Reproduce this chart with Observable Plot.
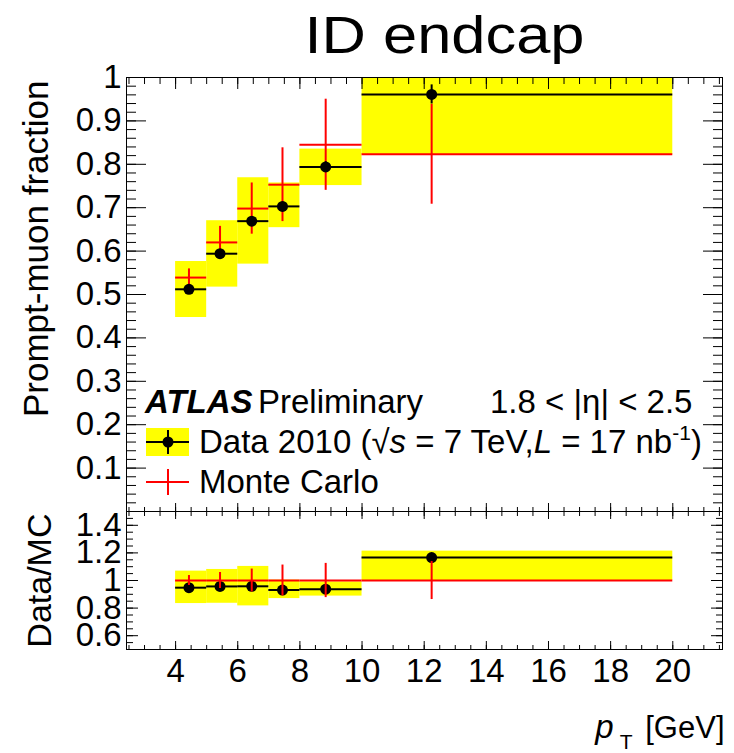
<!DOCTYPE html>
<html><head><meta charset="utf-8">
<script src="https://cdn.jsdelivr.net/npm/d3@7"></script>
<script src="https://cdn.jsdelivr.net/npm/@observablehq/plot@0.6"></script>
<style>
html,body{margin:0;padding:0;background:#fff;}
#chart{width:734px;height:753px;overflow:hidden;position:relative;}
#chart svg{display:block;}
#chart svg.bottom-panel{position:relative;margin-top:-20px;}
</style></head><body><div id="chart"></div>
<script>
// ---- data ----
const binLo = [4, 5, 6, 7, 8, 10];
const binHi = [5, 6, 7, 8, 10, 20];
const ptMean = [4.43, 5.43, 6.45, 7.44, 8.83, 12.24];
const dataFrac = [0.512, 0.594, 0.669, 0.703, 0.794, 0.961];
const dataStat = [0.008, 0.009, 0.010, 0.010, 0.012, 0.022];
const dataSysLo = [0.447, 0.517, 0.570, 0.654, 0.751, 0.822];
const dataSysHi = [0.576, 0.670, 0.769, 0.757, 0.835, 1.100];
const mcFrac = [0.539, 0.620, 0.698, 0.753, 0.845, 0.823];
const mcErr = [0.020, 0.037, 0.059, 0.085, 0.105, 0.115];
const ratio = [0.948, 0.957, 0.958, 0.931, 0.937, 1.166];
const ratioSysLo = [0.833, 0.835, 0.816, 0.869, 0.887, 1.000];
const ratioSysHi = [1.068, 1.080, 1.102, 1.003, 0.990, 1.213];
const mcRatio = [1, 1, 1, 1, 1, 1];
const mcRatioErr = [0.036, 0.058, 0.083, 0.112, 0.124, 0.138];

// ---- axes / tick labels ----
const xDomain = [2.42, 21.6];
const xMajor = [4, 6, 8, 10, 12, 14, 16, 18, 20];
const xMinor = d3.range(2.5, 21.51, 0.5);
const yTopDomain = [0, 1];
const yTopLabels = [0.1, 0.2, 0.3, 0.4, 0.5, 0.6, 0.7, 0.8, 0.9, 1];
const yTopMajor = d3.range(0, 1.001, 0.1);
const yTopMinor = d3.range(0, 1.001, 0.02);
const yBotDomain = [0.5, 1.5];
const yBotLabels = [0.6, 0.8, 1, 1.2, 1.4];
const yBotMajor = [0.6, 0.8, 1.0, 1.2, 1.4];
const yBotMinor = d3.range(0.5, 1.501, 0.05);

const titleText = "ID endcap";
const yTopTitle = "Prompt-muon fraction";
const yBotTitle = "Data/MC";

const FONT = "'Liberation Sans', Arial, Helvetica, sans-serif";
const YELLOW = "#ffff00", RED = "#ff0000";

const bins = binLo.map((lo, i) => ({
  lo, hi: binHi[i], x: ptMean[i],
  data: dataFrac[i], stat: dataStat[i], sysLo: dataSysLo[i], sysHi: dataSysHi[i],
  mc: mcFrac[i], mcErr: mcErr[i],
  ratio: ratio[i], rLo: ratioSysLo[i], rHi: ratioSysHi[i],
  mcR: mcRatio[i], mcRErr: mcRatioErr[i]
}));

function frameTicks(scale, values, anchor, size) {
  const opt = {anchor, tickSize: size, fill: "none", label: null, strokeWidth: 1};
  opt["inset" + anchor[0].toUpperCase() + anchor.slice(1)] = size;
  return scale === "x" ? Plot.axisX(values, opt) : Plot.axisY(values, opt);
}

// legend drawn through a custom render function (inside the top frame)
function legendMark(index, scales, values, dims) {
  const L = dims.marginLeft, B = dims.height - dims.marginBottom;
  const FS = 33;
  const g = d3.create("svg:g").attr("font-family", FONT).attr("fill", "black").attr("text-anchor", "start");
  g.append("text").attr("x", L + 19).attr("y", B - 98).attr("font-size", FS)
    .attr("font-weight", "bold").attr("font-style", "italic").text("ATLAS");
  g.append("text").attr("x", L + 132).attr("y", B - 98).attr("font-size", FS).text("Preliminary");
  g.append("text").attr("x", L + 364).attr("y", B - 98).attr("font-size", FS).text("1.8 < |η| < 2.5");
  g.append("rect").attr("x", L + 20).attr("y", B - 83).attr("width", 43).attr("height", 28).attr("fill", YELLOW);
  g.append("line").attr("x1", L + 20).attr("x2", L + 63).attr("y1", B - 69).attr("y2", B - 69).attr("stroke", "black").attr("stroke-width", 2);
  g.append("line").attr("x1", L + 42).attr("x2", L + 42).attr("y1", B - 81).attr("y2", B - 57).attr("stroke", "black").attr("stroke-width", 2);
  g.append("circle").attr("cx", L + 42).attr("cy", B - 69).attr("r", 5.5).attr("fill", "black");
  const t = g.append("text").attr("x", L + 73).attr("y", B - 58).attr("font-size", FS);
  t.append("tspan").text("Data 2010 (");
  t.append("tspan").text("√");
  t.append("tspan").attr("font-style", "italic").text("s");
  t.append("tspan").text(" = 7 TeV,");
  t.append("tspan").attr("font-style", "italic").text("L");
  t.append("tspan").text(" = 17 nb");
  t.append("tspan").attr("dy", -13).attr("font-size", 21).text("-1");
  t.append("tspan").attr("dy", 13).text(")");
  g.append("line").attr("x1", L + 20).attr("x2", L + 63).attr("y1", B - 29).attr("y2", B - 29).attr("stroke", RED).attr("stroke-width", 2);
  g.append("line").attr("x1", L + 42).attr("x2", L + 42).attr("y1", B - 42).attr("y2", B - 16).attr("stroke", RED).attr("stroke-width", 2);
  g.append("text").attr("x", L + 73).attr("y", B - 18).attr("font-size", FS).text("Monte Carlo");
  return g.node();
}

const topPlot = Plot.plot({
  width: 734, height: 511,
  marginLeft: 126, marginRight: 12, marginTop: 77, marginBottom: 0,
  style: {fontFamily: FONT, background: "white", color: "black"},
  x: {domain: xDomain},
  y: {domain: yTopDomain},
  marks: [
    Plot.rect(bins, {x1: "lo", x2: "hi", y1: "sysLo", y2: "sysHi", fill: YELLOW, clip: true}),
    Plot.ruleY(bins, {y: "mc", x1: "lo", x2: "hi", stroke: RED, strokeWidth: 2}),
    Plot.ruleX(bins, {x: "x", y1: d => d.mc - d.mcErr, y2: d => d.mc + d.mcErr, stroke: RED, strokeWidth: 2}),
    Plot.ruleY(bins, {y: "data", x1: "lo", x2: "hi", stroke: "black", strokeWidth: 2}),
    Plot.ruleX(bins, {x: "x", y1: d => d.data - d.stat, y2: d => d.data + d.stat, stroke: "black", strokeWidth: 2}),
    Plot.dot(bins, {x: "x", y: "data", r: 5.5, fill: "black"}),
    Plot.frame({stroke: "black"}),
    frameTicks("x", xMajor, "top", 11), frameTicks("x", xMinor, "top", 6),
    frameTicks("x", xMajor, "bottom", 8), frameTicks("x", xMinor, "bottom", 4),
    frameTicks("y", yTopMajor, "left", 20), frameTicks("y", yTopMinor, "left", 10),
    frameTicks("y", yTopMajor, "right", 20), frameTicks("y", yTopMinor, "right", 10),
    Plot.axisY(yTopLabels, {anchor: "left", tickSize: 0, tickPadding: 5, fontSize: 33, tickFormat: d => String(d), label: null}),
    Plot.text([titleText], {frameAnchor: "top", dx: 20, dy: -25, lineAnchor: "bottom", fontSize: 51, fill: "black"}),
    Plot.text([yTopTitle], {frameAnchor: "top-left", dx: -79, dy: 3, rotate: -90, textAnchor: "end", lineAnchor: "bottom", fontSize: 35, fill: "black"}),
    legendMark
  ]
});

const botPlot = Plot.plot({
  width: 734, height: 262,
  marginLeft: 126, marginRight: 12, marginTop: 20, marginBottom: 104,
  style: {fontFamily: FONT, background: "transparent", color: "black"},
  x: {domain: xDomain},
  y: {domain: yBotDomain},
  marks: [
    Plot.rect(bins, {x1: "lo", x2: "hi", y1: "rLo", y2: "rHi", fill: YELLOW, clip: true}),
    Plot.ruleY(bins, {y: "ratio", x1: "lo", x2: "hi", stroke: "black", strokeWidth: 2}),
    Plot.dot(bins, {x: "x", y: "ratio", r: 5.5, fill: "black"}),
    Plot.ruleY(bins, {y: "mcR", x1: "lo", x2: "hi", stroke: RED, strokeWidth: 2}),
    Plot.ruleX(bins, {x: "x", y1: d => d.mcR - d.mcRErr, y2: d => d.mcR + d.mcRErr, stroke: RED, strokeWidth: 2}),
    Plot.frame({stroke: "black"}),
    frameTicks("x", xMajor, "top", 7), frameTicks("x", xMinor, "top", 4),
    frameTicks("x", xMajor, "bottom", 8), frameTicks("x", xMinor, "bottom", 4),
    frameTicks("y", yBotMajor, "left", 12), frameTicks("y", yBotMinor, "left", 7),
    frameTicks("y", yBotMajor, "right", 12), frameTicks("y", yBotMinor, "right", 7),
    Plot.axisY(yBotLabels, {anchor: "left", tickSize: 0, tickPadding: 5, fontSize: 33, tickFormat: d => String(d), label: null}),
    Plot.axisX(xMajor, {anchor: "bottom", tickSize: 0, tickPadding: 9, fontSize: 33, tickFormat: d => String(d), label: null}),
    Plot.text([yBotTitle], {frameAnchor: "top-left", dx: -76, dy: 2, rotate: -90, textAnchor: "end", lineAnchor: "bottom", fontSize: 34, fill: "black"}),
    Plot.text(["[GeV]"], {frameAnchor: "bottom-right", dx: 2, dy: 88, textAnchor: "end", lineAnchor: "bottom", fontSize: 31, fill: "black"}),
    Plot.text(["T"], {frameAnchor: "bottom-right", dx: -90, dy: 99, textAnchor: "end", lineAnchor: "bottom", fontSize: 21, fill: "black"}),
    Plot.text(["p"], {frameAnchor: "bottom-right", dx: -109, dy: 88, textAnchor: "end", lineAnchor: "bottom", fontSize: 33, fontStyle: "italic", fill: "black"})
  ]
});
botPlot.classList.add("bottom-panel");

d3.select(topPlot).selectAll("text").filter(function() { return this.textContent === titleText; })
  .attr("textLength", 280).attr("lengthAdjust", "spacingAndGlyphs");

const chart = document.getElementById("chart");
chart.appendChild(topPlot);
chart.appendChild(botPlot);
</script>
</body></html>
